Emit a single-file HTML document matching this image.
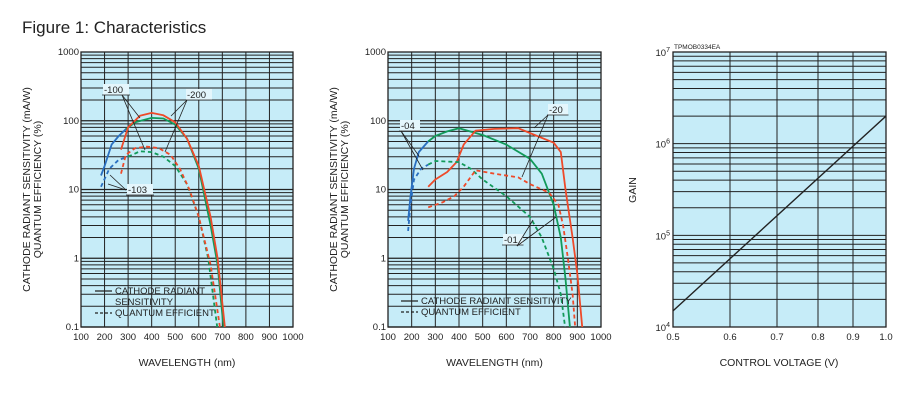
<!DOCTYPE html>
<html><head><meta charset="utf-8"><style>
body{margin:0;background:#fff;width:900px;height:413px;overflow:hidden}
svg{position:absolute;left:0;top:0;font-family:"Liberation Sans",sans-serif}
</style></head><body>
<svg id="s" width="900" height="413" viewBox="0 0 900 413"></svg>
<script>
const S=document.getElementById('s');let h='';
h+='<text x="22" y="33" font-size="17" fill="#222">Figure 1: Characteristics</text>';
const T=52,B=327,DEC=68.75;
function Y(v){return B-(Math.log10(v)+1)*DEC;}
function panel(x0,x1,curves,ann){
 const X=nm=>x0+(nm-100)/900*(x1-x0);
 h+=`<rect x="${x0}" y="${T}" width="${x1-x0}" height="${B-T}" fill="#c6ecf8"/>`;
 for(let d=-1;d<3;d++)for(let m=1;m<10;m++){const y=Y(m*Math.pow(10,d));h+=`<line x1="${x0}" x2="${x1}" y1="${y}" y2="${y}" stroke="#222" stroke-width="${m==1?1.3:1}"/>`;}
 for(let nm=200;nm<1000;nm+=100)h+=`<line x1="${X(nm)}" x2="${X(nm)}" y1="${T}" y2="${B}" stroke="#222" stroke-width="1"/>`;
 h+=`<rect x="${x0}" y="${T}" width="${x1-x0}" height="${B-T}" fill="none" stroke="#222" stroke-width="1.3"/>`;
 for(let nm=100;nm<=1000;nm+=100)h+=`<text x="${X(nm)}" y="340" font-size="9.5" text-anchor="middle" fill="#222">${nm}</text>`;
 [["1000",1000],["100",100],["10",10],["1",1],["0.1",0.1]].forEach(([t,v])=>h+=`<text x="${x0-2}" y="${Y(v)+3}" font-size="9.5" text-anchor="end" fill="#222">${t}</text>`);
 h+=`<text x="${(x0+x1)/2}" y="366" font-size="10.5" text-anchor="middle" fill="#222">WAVELENGTH (nm)</text>`;
 const cx=x0-51,cy=(T+B)/2;
 h+=`<text transform="translate(${cx},${cy}) rotate(-90)" font-size="10.5" text-anchor="middle" fill="#222">CATHODE RADIANT SENSITIVITY (mA/W)</text>`;
 h+=`<text transform="translate(${cx+11},${cy}) rotate(-90)" font-size="10.5" text-anchor="middle" fill="#222">QUANTUM EFFICIENCY (%)</text>`;
 h+=`<clipPath id="c${x0}"><rect x="${x0}" y="${T}" width="${x1-x0}" height="${B-T}"/></clipPath><g clip-path="url(#c${x0})">`;
 curves.forEach(([col,dash,pts])=>{h+=`<polyline fill="none" stroke="${col}" stroke-width="1.8" ${dash?'stroke-dasharray="4,3"':''} stroke-linejoin="round" points="${pts.map(p=>X(p[0]).toFixed(1)+','+Y(p[1]).toFixed(1)).join(' ')}"/>`;});
 h+='</g>';
 ann.forEach(a=>{
  if(a[0]=='t')h+=`<rect x="${a[1]-1}" y="${a[2]-9}" width="${a[3].length*6+2}" height="11" fill="#e4f6fc"/><text x="${a[1]}" y="${a[2]}" font-size="9.5" fill="#222">${a[3]}</text><line x1="${a[1]-2}" x2="${a[1]+a[3].length*6.5}" y1="${a[2]+2}" y2="${a[2]+2}" stroke="#222" stroke-width="0.8"/>`;
  else h+=`<line x1="${a[1]}" y1="${a[2]}" x2="${a[3]}" y2="${a[4]}" stroke="#222" stroke-width="0.8"/>`;
 });
}
const BL='#2a6fc0',GR='#129a5a',RD='#ee4a2a';
panel(81,293,[
 [BL,0,[[185,16],[200,22],[230,45],[260,60],[295,78]]],
 [GR,0,[[290,75],[330,95],[400,110],[450,108],[500,88],[550,55],[600,20],[650,3],[680,0.8],[705,0.1]]],
 [RD,0,[[270,38],[300,80],[350,118],[400,130],[450,120],[500,95],[550,55],[600,22],[650,4],[680,1],[712,0.09]]],
 [BL,1,[[185,11],[220,20],[260,27],[300,30]]],
 [GR,1,[[300,30],[350,36],[400,35],[450,30],[500,22],[550,12],[600,4],[640,1],[680,0.09]]],
 [RD,1,[[270,17],[290,32],[330,40],[380,42],[430,40],[480,32],[520,20],[560,10],[600,4],[650,0.8],[692,0.09]]]
],[['t',104,93,'-100'],['l',122,95,140,118],['l',122,95,145,150],['t',187,98,'-200'],['l',187,100,171,116],['l',187,100,165,152],['t',128,193,'-103'],['l',126,190,110,175],['l',126,190,108,184]]);
panel(388,601,[
 [BL,0,[[185,3.5],[195,8],[210,20],[230,35],[270,50]]],
 [GR,0,[[270,50],[300,60],[350,70],[400,78],[500,62],[600,45],[700,28],[750,17],[800,6],[830,2],[850,0.5],[870,0.09]]],
 [RD,0,[[270,11],[300,14],[350,18],[390,25],[420,45],[470,72],[550,76],[650,78],[720,62],[800,48],[830,35],[850,10],[880,2],[900,0.6],[922,0.09]]],
 [BL,1,[[185,2.5],[195,6],[210,14],[240,20],[270,23]]],
 [GR,1,[[270,23],[300,26],[400,25],[450,20],[500,14],[600,8],[700,4],[750,2],[800,0.7],[830,0.3],[850,0.09]]],
 [RD,1,[[270,5.5],[330,6.5],[380,8],[420,11],[470,19],[550,17],[650,15],[700,12],[780,9],[820,6],[840,3],[860,1],[880,0.3],[892,0.09]]]
],[['t',401,129,'-04'],['l',401,131,419,156],['l',401,131,423,170],['t',549,113,'-20'],['l',548,115,534,128],['l',548,115,522,177],['t',504,243,'-01'],['l',517,246,533,220],['l',517,246,556,217]]);
function leg(x,y,lines){lines.forEach((l,i)=>{const yy=y+i*11;if(l[0]!=null)h+=`<line x1="${x}" x2="${x+17}" y1="${yy-3}" y2="${yy-3}" stroke="#222" stroke-width="1.2" ${l[0]?'stroke-dasharray="3,2"':''}/>`;h+=`<text x="${x+20}" y="${yy}" font-size="9.5" fill="#222">${l[1]}</text>`;});}
leg(95,294,[[0,'CATHODE RADIANT'],[null,'SENSITIVITY'],[1,'QUANTUM EFFICIENT']]);
leg(401,304,[[0,'CATHODE RADIANT SENSITIVITY'],[1,'QUANTUM EFFICIENT']]);
const RX=[673,730,777,818,853,886],RT=52,RB=327,RD2=(RB-RT)/3;
const RY=v=>RB-(Math.log10(v)-4)*RD2;
h+=`<rect x="673" y="${RT}" width="213" height="${RB-RT}" fill="#c6ecf8"/>`;
for(let d=4;d<7;d++)for(let m=1;m<10;m++){const y=RY(m*Math.pow(10,d));h+=`<line x1="673" x2="886" y1="${y}" y2="${y}" stroke="#222" stroke-width="1"/>`;}
RX.slice(1,5).forEach(x=>h+=`<line x1="${x}" x2="${x}" y1="${RT}" y2="${RB}" stroke="#222" stroke-width="1"/>`);
h+=`<rect x="673" y="${RT}" width="213" height="${RB-RT}" fill="none" stroke="#222" stroke-width="1.3"/>`;
['0.5','0.6','0.7','0.8','0.9','1.0'].forEach((t,i)=>h+=`<text x="${RX[i]}" y="340" font-size="9.5" text-anchor="middle" fill="#222">${t}</text>`);
[[7,RT],[6,RY(1e6)],[5,RY(1e5)],[4,RB]].forEach(([e,y])=>h+=`<text x="670" y="${y+4}" font-size="9.5" text-anchor="end" fill="#222">10<tspan dy="-4" font-size="7">${e}</tspan></text>`);
h+=`<text x="674" y="49" font-size="6.5" fill="#222">TPMOB0334EA</text>`;
h+=`<line x1="673" y1="${RY(1.5e4)}" x2="886" y2="${RY(2e6)}" stroke="#222" stroke-width="1.4"/>`;
h+=`<text x="779" y="366" font-size="10.5" text-anchor="middle" fill="#222">CONTROL VOLTAGE (V)</text>`;
h+=`<text transform="translate(636,190) rotate(-90)" font-size="10.5" text-anchor="middle" fill="#222">GAIN</text>`;
S.innerHTML=h;
</script>
</body></html>
